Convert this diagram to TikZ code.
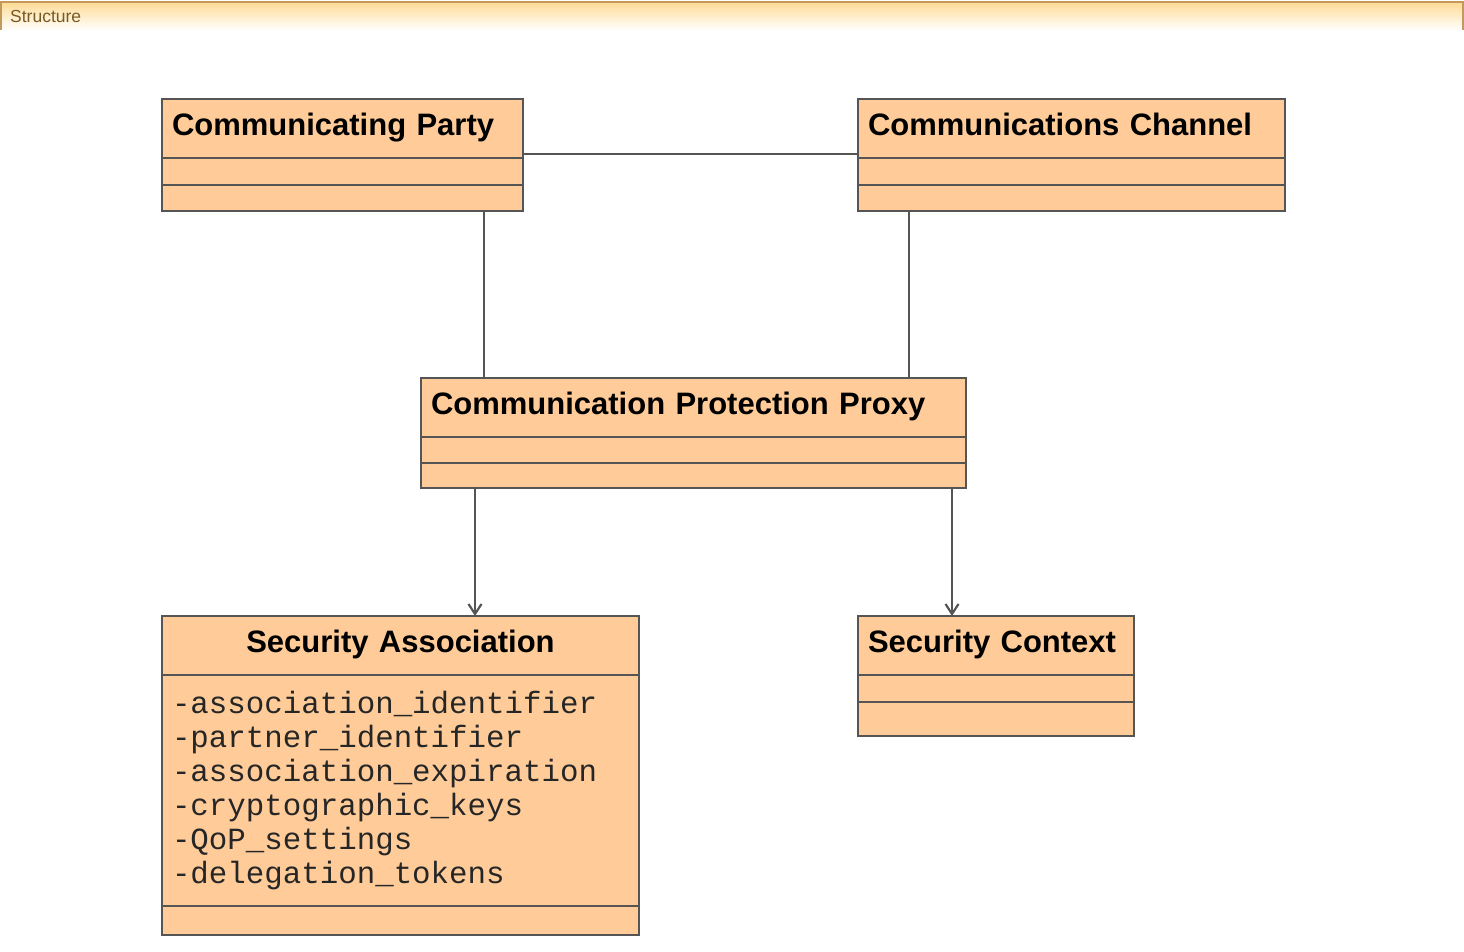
\documentclass[tikz,border=0pt]{standalone}
\usepackage{fontspec}
\setmainfont{Liberation Sans}
\newfontfamily\attrfont{Liberation Mono}
\usetikzlibrary{arrows.meta,positioning}
\definecolor{Peach}{HTML}{FFCC99}
\definecolor{Edge}{HTML}{555555}
\definecolor{Bar}{HTML}{FFDB94}
\definecolor{BarLine}{HTML}{C49A5C}
\definecolor{BarText}{HTML}{7A5A24}
\tikzset{
  classhead/.style={
    rectangle, draw=Edge, fill=Peach, line width=2.4pt, anchor=north west, outer sep=0pt,
    inner xsep=10pt, inner ysep=13pt, text height=23pt, text depth=10pt,
    minimum height=59pt, align=left, font=\fontsize{31}{37}\selectfont\bfseries
  },
  classpart/.style={rectangle, draw=Edge, fill=Peach, line width=2.4pt, inner sep=0pt, outer sep=0pt, minimum width=#1},
  assoc/.style={draw=Edge, line width=2.2pt},
  navarrow/.style={assoc, -{Straight Barb[length=10pt,width=13pt]}},
}

\begin{document}
\begin{tikzpicture}[x=1pt,y=-1pt]
    \useasboundingbox (0,0) rectangle (1464,951);
    % title bar
    \shade[top color=Bar, bottom color=white] (0,2) rectangle (1464,30);
    \draw[BarLine, line width=2pt] (1,30) -- (1,2) -- (1463,2) -- (1463,30);
    \node[anchor=base west, inner sep=0pt, text=BarText, font=\fontsize{17.5}{20}\selectfont] (hdr) at (10,22) {Structure};
    % classes
    \node[classhead, text width=341pt] (cp) at (162,99) {Communicating Party};
    \node[classpart=361pt, minimum height=27pt, below=0pt of cp] (cpA) {};
    \node[classpart=361pt, minimum height=26pt, below=0pt of cpA] (cpO) {};
    \node[classhead, text width=407pt] (cc) at (858,99) {Communications Channel};
    \node[classpart=427pt, minimum height=27pt, below=0pt of cc] (ccA) {};
    \node[classpart=427pt, minimum height=26pt, below=0pt of ccA] (ccO) {};
    \node[classhead, text width=525pt] (px) at (421,378) {Communication Protection Proxy};
    \node[classpart=545pt, minimum height=26pt, below=0pt of px] (pxA) {};
    \node[classpart=545pt, minimum height=25pt, below=0pt of pxA] (pxO) {};
    \node[classhead, text width=457pt, align=center] (sa) at (162,616) {Security Association};
    \node[classpart=477pt, minimum height=231pt, below=0pt of sa, inner xsep=10pt, text width=457pt, align=left,
          font=\attrfont\fontsize{30.8}{34}\selectfont, text=black!85] (saA)
          {-association\_identifier\\-partner\_identifier\\-association\_expiration\\-cryptographic\_keys\\-QoP\_settings\\-delegation\_tokens};
    \node[classpart=477pt, minimum height=29pt, below=0pt of saA] (saO) {};
    \node[classhead, text width=256pt] (sc) at (858,616) {Security Context};
    \node[classpart=276pt, minimum height=27pt, below=0pt of sc] (scA) {};
    \node[classpart=276pt, minimum height=34pt, below=0pt of scA] (scO) {};
    % connectors
    \coordinate (cpLeg) at ([xshift=-39pt]cpO.south east);
    \coordinate (ccLeg) at ([xshift=51pt]ccO.south west);
    \coordinate (saLeg) at ([xshift=54pt]pxO.south west);
    \coordinate (scLeg) at ([xshift=-14pt]pxO.south east);
    \draw[assoc] ([yshift=4pt]cp.south east) -- ([yshift=4pt]cc.south west);
    \draw[assoc] (cpLeg) -- (cpLeg |- px.north);
    \draw[assoc] (ccLeg) -- (ccLeg |- px.north);
    \draw[navarrow] (saLeg) -- (saLeg |- sa.north);
    \draw[navarrow] (scLeg) -- (scLeg |- sc.north);
\end{tikzpicture}
\end{document}
